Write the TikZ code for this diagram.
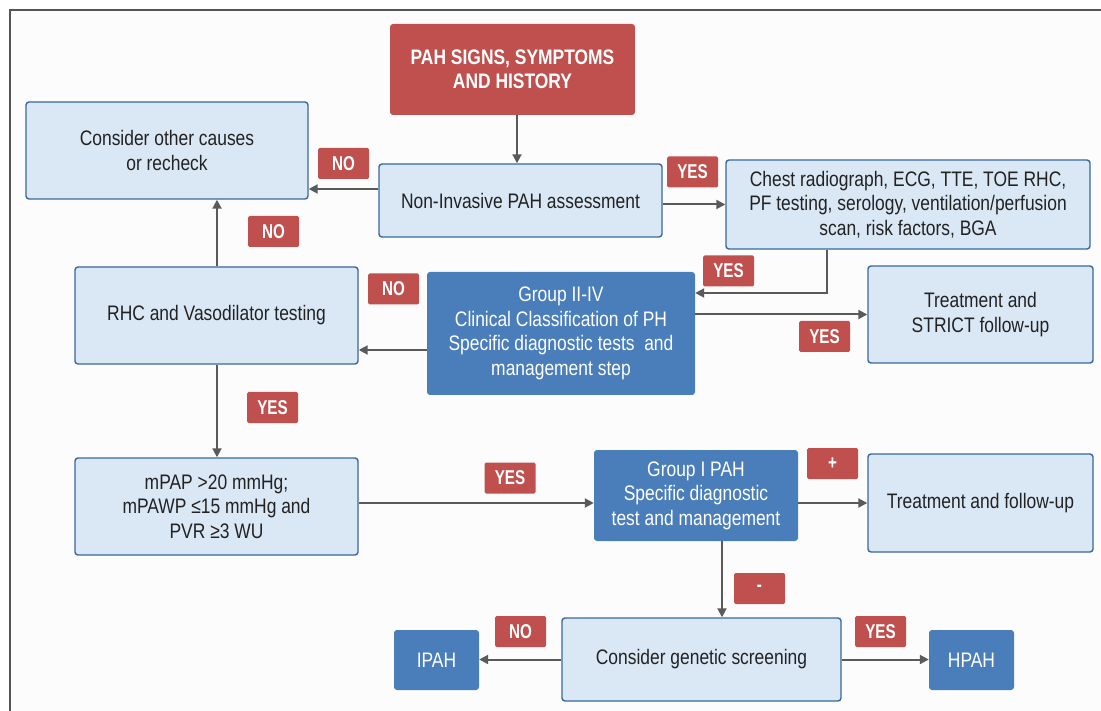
\documentclass[tikz,border=0pt]{standalone}
\usepackage{fontspec}
\setmainfont{Liberation Sans}[FakeStretch=0.83]
\newfontfamily\labfont{Liberation Sans}[FakeStretch=0.76]
\usetikzlibrary{arrows.meta}
\definecolor{lfill}{HTML}{DAE8F6}
\definecolor{lborder}{HTML}{3A679C}
\definecolor{dblue}{HTML}{4A7EBB}
\definecolor{rred}{HTML}{C0504D}
\definecolor{arrg}{HTML}{5A5A5A}
\definecolor{txt}{HTML}{222222}
\definecolor{framec}{HTML}{555555}
\definecolor{bgc}{HTML}{FCFCFC}
\begin{document}
\begin{tikzpicture}[x=1pt,y=-1pt,
  mainfont/.style={font=\fontsize{21}{24.5}\selectfont},
  lbox/.style={draw=lborder, line width=1.4pt, fill=lfill, rounded corners=3pt, align=center, text=txt, mainfont, inner sep=0pt},
  dbox/.style={fill=dblue, rounded corners=3pt, align=center, text=white, mainfont, inner sep=0pt},
  rbox/.style={fill=rred, rounded corners=3pt, align=center, text=white, font=\fontsize{21}{24.5}\selectfont\bfseries, inner sep=0pt},
  lab/.style={fill=rred, rounded corners=1.5pt, minimum width=51pt, minimum height=31pt, inner sep=0pt, text=white, font=\labfont\fontsize{20}{20}\selectfont\bfseries},
  arr/.style={draw=arrg, line width=2pt, -{Triangle[length=9pt,width=9pt]}}
]
\useasboundingbox (0,0) rectangle (1101,711);
\fill[white] (0,0) rectangle (1101,711);
\fill[bgc] (10,10) rectangle (1101,711);
\draw[framec, line width=1.3pt] (10,711) -- (10,10) -- (1101,10);

% boxes
\node[rbox, minimum width=245pt, minimum height=91pt] (pah) at (512.5,69.5) {PAH SIGNS, SYMPTOMS\\AND HISTORY};
\node[lbox, minimum width=282pt, minimum height=97pt] (cons) at (167,150.5) {Consider other causes\\or recheck};
\node[lbox, minimum width=283pt, minimum height=73pt] (ni) at (520.5,200.5) {Non-Invasive PAH assessment};
\node[lbox, minimum width=364pt, minimum height=89pt] (chest) at (908,204.5) {Chest radiograph, ECG, TTE, TOE RHC,\\PF testing, serology, ventilation/perfusion\\scan, risk factors, BGA};
\node[lbox, minimum width=283pt, minimum height=97pt] (rhc) at (216.5,315.5) {RHC and Vasodilator testing};
\node[dbox, minimum width=268pt, minimum height=123pt] (g24) at (561,333.5) {Group II-IV\\Clinical Classification of PH\\Specific diagnostic tests\ \ and\\management step};
\node[lbox, minimum width=225pt, minimum height=97pt] (tstrict) at (980.5,314.5) {Treatment and\\STRICT follow-up};
\node[lbox, minimum width=283pt, minimum height=97pt] (mpap) at (216.5,506.5) {mPAP >20 mmHg;\\mPAWP ≤15 mmHg and\\PVR ≥3 WU};
\node[dbox, minimum width=204pt, minimum height=91pt] (g1) at (696,495.5) {Group I PAH\\Specific diagnostic\\test and management};
\node[lbox, minimum width=225pt, minimum height=98pt] (tfu) at (980.5,503) {Treatment and follow-up};
\node[lbox, minimum width=279pt, minimum height=83pt] (gen) at (701.5,659.5) {Consider genetic screening};
\node[dbox, minimum width=85pt, minimum height=60pt] (ipah) at (436.5,660) {IPAH};
\node[dbox, minimum width=85pt, minimum height=60pt] (hpah) at (971.5,660) {HPAH};

% labels
\node[lab] (no1) at (343.5,163.5) {NO};
\node[lab] (yes1) at (692.5,172) {YES};
\node[lab] (no2) at (273.5,231.5) {NO};
\node[lab] (yes2) at (728.5,271) {YES};
\node[lab] (no3) at (393.5,289) {NO};
\node[lab] (yes3) at (824.5,336.5) {YES};
\node[lab] (yes4) at (272.5,407.5) {YES};
\node[lab] (yes5) at (510,478) {YES};
\node[lab] (plus) at (832.5,463.5) {+};
\node[lab] (minus) at (759.5,588.5) {-};
\node[lab] (no4) at (520.5,631.5) {NO};
\node[lab] (yes6) at (880.5,631.5) {YES};

% helper coordinates
\coordinate (c1) at (517,0);
\coordinate (c2) at (0,189);
\coordinate (c3) at (827,293);
\coordinate (c4) at (0,350);
\coordinate (c5) at (0,503);
\coordinate (c6) at (722,0);
\coordinate (c7) at (217,0);
\coordinate (c8) at (0,659.5);

% connectors
\draw[arr] (pah.south -| c1) -- (ni.north -| c1);
\draw[arr] (ni.west |- c2) -- (cons.east |- c2);
\draw[arr] (ni.east |- chest.west) -- (chest.west);
\draw[arr] (chest.south -| c3) -- (c3) -- (g24.east |- c3);
\draw[arr] (g24.east |- tstrict.west) -- (tstrict.west);
\draw[arr] (g24.west |- c4) -- (rhc.east |- c4);
\draw[arr] (rhc.north -| c7) -- (cons.south -| c7);
\draw[arr] (rhc.south -| c7) -- (mpap.north -| c7);
\draw[arr] (mpap.east |- c5) -- (g1.west |- c5);
\draw[arr] (g1.east |- c5) -- (tfu.west |- c5);
\draw[arr] (g1.south -| c6) -- (gen.north -| c6);
\draw[arr] (gen.west |- c8) -- (ipah.east |- c8);
\draw[arr] (gen.east |- c8) -- (hpah.west |- c8);
\end{tikzpicture}
\end{document}
